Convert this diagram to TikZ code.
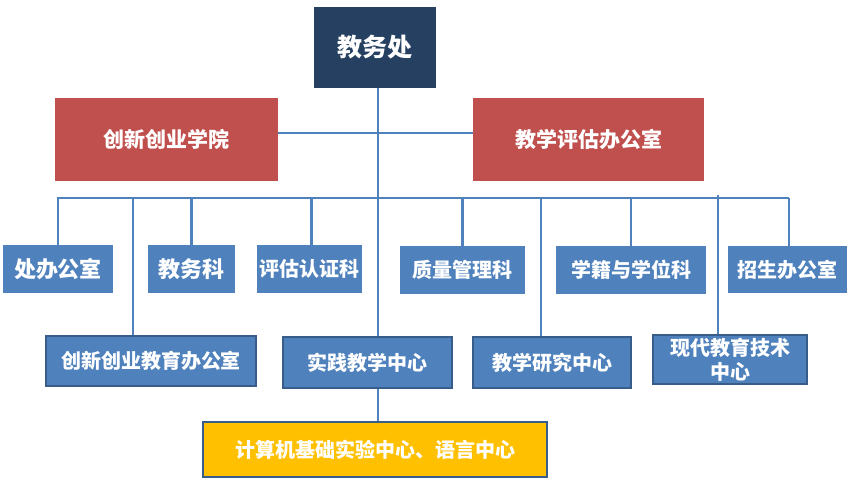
\documentclass[tikz,border=0pt]{standalone}
\usepackage{fontspec}
\newfontfamily\cjk{Noto Sans CJK SC}
\definecolor{navy}{HTML}{254061}
\definecolor{brick}{HTML}{C0504D}
\definecolor{steel}{HTML}{4F81BD}
\definecolor{edge}{HTML}{385D8A}
\definecolor{amber}{HTML}{FFC000}
\tikzset{
  box/.style={inner sep=0pt, text=white, font=\cjk\bfseries\fontsize{20}{25}\selectfont, align=center},
  topbox/.style={box, fill=navy, font=\cjk\bfseries\fontsize{25}{30}\selectfont},
  redbox/.style={box, fill=brick, font=\cjk\bfseries\fontsize{21}{26}\selectfont},
  bluebox/.style={box, fill=steel},
  framebox/.style={box, fill=steel, draw=edge, line width=2pt},
  yellowbox/.style={box, fill=amber, draw=edge, line width=2pt},
  link/.style={draw=steel, line width=2.6pt}
}
\begin{document}
\begin{tikzpicture}[x=1pt,y=-1pt]
\useasboundingbox (0,0) rectangle (855,491);
% nodes
\node[topbox, minimum width=122pt, minimum height=81pt] (jwc) at (375,47.5) {教务处};
\node[redbox, minimum width=223pt, minimum height=83pt] (cx) at (166.5,139.5) {创新创业学院};
\node[redbox, minimum width=231pt, minimum height=83pt] (pg) at (588.5,139.5) {教学评估办公室};
\node[bluebox, minimum width=110pt, minimum height=48pt, font=\cjk\bfseries\fontsize{22}{26}\selectfont] (bgs) at (58,269) {处办公室};
\node[bluebox, minimum width=87pt, minimum height=48pt, font=\cjk\bfseries\fontsize{22}{26}\selectfont] (jwk) at (191.5,269) {教务科};
\node[bluebox, minimum width=105pt, minimum height=48pt] (pgrz) at (309.5,269) {评估认证科};
\node[bluebox, minimum width=125pt, minimum height=48pt] (zl) at (462.5,270) {质量管理科};
\node[bluebox, minimum width=150pt, minimum height=48pt] (xj) at (631,270) {学籍与学位科};
\node[bluebox, minimum width=119pt, minimum height=47pt] (zs) at (787.5,269.5) {招生办公室};
\node[framebox, minimum width=210pt, minimum height=50pt] (cxjy) at (151,361) {创新创业教育办公室};
\node[framebox, minimum width=169pt, minimum height=51pt] (sj) at (367.5,362.5) {实践教学中心};
\node[framebox, minimum width=158pt, minimum height=51pt] (jy) at (552,362.5) {教学研究中心};
\node[framebox, minimum width=154pt, minimum height=49pt, font=\cjk\bfseries\fontsize{20}{24}\selectfont] (xd) at (730,359.5) {现代教育技术\\中心};
\node[yellowbox, minimum width=344pt, minimum height=55pt] (jsj) at (375,449.5) {计算机基础实验中心、语言中心};
% coordinates
\coordinate (busL) at (57,198);
\coordinate (busR) at (789,198);
\coordinate (mainx) at (378,0);
\coordinate (redy) at (0,133);
\coordinate (t1) at (133,198);
\coordinate (t2) at (541,198);
\coordinate (t3) at (718,195);
% connectors
\begin{scope}[on background layer/.try]
\draw[link] (cx.east |- redy) -- (pg.west |- redy);
\draw[link] (jwc.south -| mainx) -- (sj.north -| mainx);
\draw[link] (busL) -- (busR);
\draw[link] (bgs.north) -- (bgs.north |- busL);
\draw[link] (jwk.north) -- (jwk.north |- busL);
\draw[link] ([xshift=2pt]pgrz.north) -- ([xshift=2pt]pgrz.north |- busL);
\draw[link] (zl.north) -- (zl.north |- busL);
\draw[link] (xj.north) -- (xj.north |- busL);
\draw[link] ([xshift=1.5pt]zs.north) -- ([xshift=1.5pt]zs.north |- busR);
\draw[link] (t1) -- (cxjy.north -| t1);
\draw[link] (t2) -- (jy.north -| t2);
\draw[link] (t3) -- (xd.north -| t3);
\draw[link] (sj.south -| mainx) -- (jsj.north -| mainx);
\end{scope}
\end{tikzpicture}
\end{document}
